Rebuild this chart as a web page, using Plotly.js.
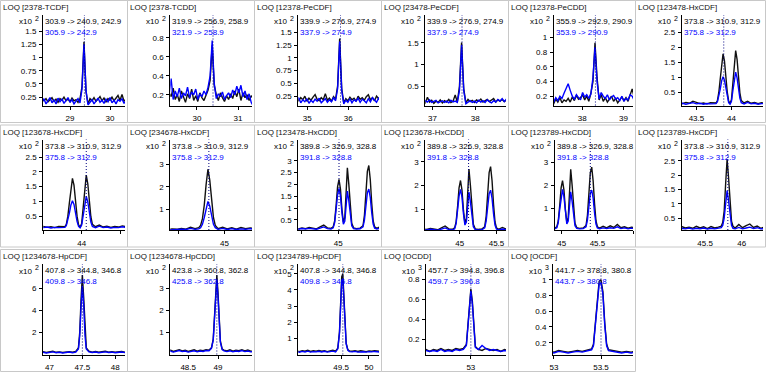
<!DOCTYPE html>
<html><head><meta charset="utf-8">
<script src="https://cdn.plot.ly/plotly-3.0.1.min.js"></script>
<style>html,body{margin:0;padding:0;background:#fff}#chart{width:769px;height:377px}</style>
</head><body><div id="chart"></div>
<script>
// ---------------- DATA ----------------
const titles = ['LOQ [2378-TCDF]','LOQ [2378-TCDD]','LOQ [12378-PeCDF]','LOQ [23478-PeCDF]','LOQ [12378-PeCDD]','LOQ [123478-HxCDF]',
  'LOQ [123678-HxCDF]','LOQ [234678-HxCDF]','LOQ [123478-HxCDD]','LOQ [123678-HxCDD]','LOQ [123789-HxCDD]','LOQ [123789-HxCDF]',
  'LOQ [1234678-HpCDF]','LOQ [1234678-HpCDD]','LOQ [1234789-HpCDF]','LOQ [OCDD]','LOQ [OCDF]'];
const quantLabels = ['303.9 -> 240.9, 242.9','319.9 -> 256.9, 258.9','339.9 -> 276.9, 274.9','339.9 -> 276.9, 274.9','355.9 -> 292.9, 290.9','373.8 -> 310.9, 312.9',
  '373.8 -> 310.9, 312.9','373.8 -> 310.9, 312.9','389.8 -> 326.9, 328.8','389.8 -> 326.9, 328.8','389.8 -> 326.9, 328.8','373.8 -> 310.9, 312.9',
  '407.8 -> 344.8, 346.8','423.8 -> 360.8, 362.8','407.8 -> 344.8, 346.8','457.7 -> 394.8, 396.8','441.7 -> 378.8, 380.8'];
const qualLabels = ['305.9 -> 242.9','321.9 -> 258.9','337.9 -> 274.9','337.9 -> 274.9','353.9 -> 290.9','375.8 -> 312.9',
  '375.8 -> 312.9','375.8 -> 312.9','391.8 -> 328.8','391.8 -> 328.8','391.8 -> 328.8','375.8 -> 312.9',
  '409.8 -> 346.8','425.8 -> 362.8','409.8 -> 346.8','459.7 -> 396.8','443.7 -> 380.8'];
const exponents = ['2','2','2','2','2','2','2','2','2','2','2','2','2','2','2','3','3'];
const retTimes = [29.36,30.39,35.81,37.69,38.32,43.89,44.06,44.83,45.01,45.12,45.40,45.81,47.50,48.98,49.53,53.00,53.50];

const tcdfStart = 28.30, tcdfStep = 0.05;
const tcdfQuant = [0.20,0.18,0.22,0.16,0.20,0.24,0.17,0.21,0.15,0.22,0.19,0.25,0.18,0.21,0.16,0.23,0.18,0.20,0.15,0.22,0.45,1.30,0.35,0.12,0.22,0.18,0.24,0.17,0.21,0.26,0.18,0.23,0.16,0.22,0.19,0.25,0.18,0.22,0.28,0.19,0.30,0.17,0.21];
const tcdfQual  = [0.15,0.22,0.12,0.19,0.24,0.14,0.20,0.12,0.23,0.16,0.21,0.13,0.19,0.24,0.15,0.20,0.12,0.18,0.22,0.14,0.40,1.25,0.38,0.10,0.14,0.20,0.12,0.18,0.23,0.15,0.19,0.13,0.21,0.16,0.24,0.14,0.19,0.12,0.20,0.17,0.22,0.13,0.18];

const tcddStart = 29.32, tcddStep = 0.05;
const tcddQuant = [0.22,0.18,0.27,0.15,0.20,0.13,0.24,0.17,0.12,0.21,0.16,0.26,0.14,0.19,0.13,0.22,0.17,0.14,0.20,0.25,0.35,0.72,0.30,0.20,0.14,0.22,0.17,0.13,0.19,0.15,0.21,0.16,0.24,0.18,0.26,0.14,0.22,0.17,0.20,0.14,0.19,0.16];
const tcddQual  = [0.20,0.37,0.15,0.24,0.18,0.27,0.16,0.22,0.19,0.28,0.17,0.23,0.20,0.26,0.15,0.21,0.18,0.24,0.20,0.28,0.40,0.77,0.32,0.16,0.21,0.18,0.23,0.15,0.19,0.22,0.17,0.25,0.20,0.29,0.22,0.30,0.18,0.24,0.15,0.21,0.12,0.08];

const pecdf1Start = 34.74, pecdf1Step = 0.05;
const pecdf1Quant = [0.20,0.16,0.22,0.18,0.25,0.15,0.21,0.17,0.23,0.28,0.19,0.16,0.22,0.18,0.30,0.17,0.21,0.15,0.24,0.19,0.45,1.38,0.40,0.12,0.20,0.16,0.23,0.18,0.21,0.15,0.25,0.19,0.22,0.17,0.24,0.28,0.18,0.22,0.16,0.25,0.20,0.23];
const pecdf1Qual  = [0.15,0.22,0.12,0.18,0.14,0.20,0.11,0.17,0.13,0.19,0.15,0.21,0.12,0.16,0.20,0.13,0.18,0.14,0.22,0.16,0.40,1.32,0.35,0.10,0.17,0.13,0.20,0.12,0.18,0.15,0.21,0.13,0.19,0.16,0.12,0.20,0.14,0.22,0.17,0.13,0.21,0.15];

const pecdf2Start = 36.78, pecdf2Step = 0.05;
const pecdf2Quant = [0.15,0.12,0.25,0.14,0.18,0.11,0.16,0.13,0.19,0.12,0.17,0.14,0.20,0.13,0.16,0.30,0.14,0.50,1.51,0.45,0.12,0.20,0.15,0.18,0.13,0.19,0.16,0.21,0.14,0.17,0.20,0.15,0.18,0.22,0.14,0.19,0.16,0.20,0.15,0.18,0.14];
const pecdf2Qual  = [0.12,0.17,0.14,0.19,0.13,0.16,0.18,0.12,0.15,0.17,0.13,0.16,0.12,0.18,0.14,0.16,0.13,0.40,1.45,0.40,0.10,0.14,0.17,0.13,0.16,0.12,0.18,0.14,0.17,0.13,0.19,0.15,0.12,0.17,0.14,0.20,0.16,0.22,0.15,0.21,0.24];

const pecddStart = 37.26, pecddStep = 0.05;
const pecddQuant = [0.14,0.10,0.16,0.12,0.18,0.11,0.15,0.13,0.17,0.12,0.19,0.14,0.21,0.16,0.18,0.22,0.15,0.20,0.13,0.24,0.40,0.93,0.45,0.15,0.22,0.13,0.18,0.12,0.16,0.20,0.13,0.17,0.11,0.15,0.19,0.14,0.18,0.13,0.21,0.30,0.18];
const pecddQual  = [0.16,0.12,0.18,0.14,0.20,0.17,0.24,0.30,0.37,0.28,0.20,0.16,0.22,0.18,0.15,0.25,0.19,0.22,0.17,0.23,0.45,0.87,0.40,0.16,0.25,0.20,0.17,0.22,0.15,0.19,0.21,0.16,0.18,0.14,0.20,0.13,0.17,0.15,0.22,0.20,0.14];

const hxcdfTime = [43.25,43.30,43.35,43.40,43.45,43.50,43.55,43.60,43.65,43.70,43.75,43.78,43.80,43.82,43.84,43.86,43.88,43.90,43.92,43.94,43.96,43.98,44.00,44.02,44.04,44.06,44.08,44.10,44.12,44.14,44.18,44.23,44.28,44.33,44.38,44.43,44.48,44.53,44.58,44.63,44.68,44.72,44.74,44.76,44.78,44.80,44.82,44.84,44.86,44.88,44.90,44.93,44.98,45.03,45.08,45.13,45.18,45.23,45.28,45.33,45.38,45.43,45.48,45.53,45.58,45.63,45.68,45.72,45.74,45.76,45.78,45.80,45.82,45.84,45.86,45.88,45.91,45.96,46.01,46.06,46.11,46.16,46.21,46.26,46.31,46.36];
const hxcdfQuant = [0.14,0.12,0.16,0.13,0.20,0.15,0.12,0.14,0.11,0.15,0.13,0.14,0.22,0.50,0.95,1.50,1.78,1.55,1.00,0.50,0.20,0.12,0.25,0.80,1.50,1.89,1.60,1.00,0.48,0.22,0.14,0.20,0.13,0.16,0.12,0.15,0.13,0.17,0.14,0.22,0.16,0.20,0.30,0.60,1.20,2.10,2.78,2.30,1.40,0.65,0.30,0.16,0.22,0.15,0.20,0.14,0.21,0.16,0.19,0.15,0.22,0.16,0.20,0.14,0.21,0.16,0.19,0.22,0.35,0.75,1.70,2.56,1.90,0.90,0.40,0.22,0.16,0.28,0.17,0.24,0.30,0.18,0.23,0.15,0.20,0.17];
const hxcdfQual  = [0.11,0.13,0.10,0.12,0.15,0.11,0.13,0.10,0.12,0.11,0.13,0.12,0.18,0.35,0.60,0.88,1.02,0.90,0.60,0.32,0.15,0.10,0.20,0.55,0.95,1.17,0.98,0.60,0.30,0.15,0.11,0.16,0.11,0.13,0.10,0.12,0.11,0.14,0.12,0.17,0.13,0.15,0.20,0.35,0.65,1.05,1.36,1.15,0.70,0.35,0.20,0.13,0.17,0.12,0.16,0.12,0.15,0.13,0.16,0.12,0.15,0.13,0.16,0.12,0.15,0.13,0.15,0.17,0.25,0.50,1.00,1.46,1.10,0.55,0.25,0.15,0.13,0.18,0.13,0.16,0.19,0.14,0.17,0.13,0.15,0.14];

const hxcddTime = [44.40,44.45,44.50,44.55,44.60,44.65,44.70,44.75,44.80,44.85,44.90,44.93,44.95,44.97,44.99,45.01,45.03,45.05,45.07,45.09,45.105,45.125,45.145,45.165,45.185,45.21,45.25,45.30,45.34,45.36,45.38,45.40,45.42,45.44,45.46,45.48,45.50,45.53,45.58,45.63,45.68,45.73,45.78,45.83,45.88,45.93,45.98,46.03];
const hxcddQuant = [0.15,0.12,0.16,0.13,0.18,0.14,0.12,0.20,0.28,0.16,0.14,0.20,0.45,1.10,1.90,2.21,1.80,0.95,0.40,0.60,1.40,2.70,2.00,0.90,0.35,0.16,0.13,0.15,0.25,0.70,1.60,2.55,2.80,2.20,1.20,0.45,0.20,0.14,0.22,0.15,0.24,0.17,0.30,0.16,0.20,0.14,0.18,0.15];
const hxcddQual  = [0.12,0.10,0.13,0.11,0.14,0.12,0.10,0.15,0.20,0.13,0.11,0.16,0.38,0.95,1.55,1.83,1.50,0.80,0.32,0.45,1.00,1.72,1.30,0.60,0.25,0.13,0.11,0.12,0.20,0.50,1.10,1.65,1.80,1.45,0.80,0.32,0.15,0.11,0.15,0.12,0.16,0.13,0.20,0.12,0.15,0.11,0.14,0.12];

const hpcdfTime = [46.85,46.90,46.95,47.00,47.05,47.10,47.15,47.20,47.25,47.30,47.35,47.40,47.44,47.46,47.48,47.50,47.52,47.54,47.56,47.60,47.65,47.70,47.75,47.80,47.85,47.90,47.95,48.00,48.05,48.10,48.15,48.20,48.70,48.75,48.80,48.85,48.90,48.95,49.00,49.05,49.10,49.15,49.20,49.25,49.30,49.35,49.40,49.44,49.47,49.49,49.51,49.53,49.55,49.57,49.59,49.62,49.65,49.70,49.75,49.80,49.85,49.90,49.95,50.00,50.05,50.10,50.15,50.20];
const hpcdfQuant = [0.20,0.25,0.18,0.22,0.30,0.20,0.24,0.18,0.22,0.26,0.20,0.28,0.60,2.00,5.00,7.20,5.20,2.00,0.60,0.30,0.22,0.28,0.20,0.25,0.30,0.22,0.26,0.20,0.24,0.28,0.21,0.25,0.22,0.18,0.24,0.20,0.26,0.19,0.23,0.21,0.25,0.20,0.24,0.18,0.22,0.26,0.20,0.40,1.40,3.20,4.80,5.00,3.60,1.80,0.70,0.30,0.22,0.20,0.24,0.19,0.23,0.21,0.18,0.22,0.20,0.24,0.21,0.19];
const hpcdfQual  = [0.15,0.20,0.14,0.18,0.24,0.16,0.20,0.14,0.18,0.22,0.16,0.22,0.50,1.70,4.30,6.20,4.50,1.70,0.50,0.24,0.18,0.22,0.16,0.20,0.24,0.18,0.21,0.16,0.20,0.23,0.17,0.20,0.17,0.14,0.19,0.16,0.21,0.15,0.18,0.16,0.20,0.16,0.20,0.15,0.18,0.21,0.16,0.35,1.30,3.00,4.50,4.70,3.40,1.70,0.65,0.26,0.18,0.16,0.19,0.15,0.18,0.17,0.15,0.18,0.16,0.19,0.17,0.15];

const hpcddTime = [48.15,48.20,48.25,48.30,48.35,48.40,48.45,48.50,48.55,48.60,48.65,48.70,48.75,48.80,48.85,48.89,48.92,48.94,48.96,48.98,49.00,49.02,49.04,49.07,49.10,49.15,49.20,49.25,49.30,49.35,49.40,49.45,49.50,49.55,49.60,49.65];
const hpcddQuant = [0.15,0.20,0.14,0.18,0.22,0.16,0.19,0.14,0.18,0.21,0.15,0.19,0.17,0.22,0.20,0.30,0.70,1.60,2.90,3.60,2.80,1.50,0.60,0.25,0.20,0.16,0.21,0.15,0.19,0.17,0.22,0.16,0.20,0.15,0.18,0.16];
const hpcddQual  = [0.12,0.16,0.11,0.15,0.18,0.13,0.16,0.11,0.15,0.17,0.12,0.16,0.14,0.18,0.17,0.28,0.65,1.50,2.75,3.40,2.60,1.40,0.55,0.22,0.16,0.13,0.17,0.12,0.16,0.14,0.18,0.13,0.16,0.12,0.15,0.13];

const ocddTime = [52.35,52.40,52.45,52.50,52.55,52.60,52.65,52.70,52.75,52.80,52.85,52.90,52.94,52.96,52.98,53.00,53.02,53.04,53.06,53.10,53.15,53.20,53.25,53.30,53.35,53.40,53.45,53.50,53.55];
const ocddQuant = [0.09,0.10,0.08,0.10,0.09,0.11,0.09,0.10,0.09,0.11,0.10,0.11,0.15,0.35,0.60,0.70,0.58,0.30,0.13,0.10,0.09,0.11,0.10,0.09,0.10,0.08,0.10,0.09,0.10];
const ocddQual  = [0.08,0.09,0.08,0.09,0.08,0.10,0.08,0.09,0.08,0.10,0.09,0.10,0.14,0.33,0.57,0.68,0.55,0.28,0.12,0.10,0.14,0.11,0.09,0.10,0.09,0.08,0.09,0.08,0.09];

const ocdfTime = [52.90,52.95,53.00,53.05,53.10,53.15,53.20,53.25,53.30,53.35,53.40,53.42,53.44,53.46,53.48,53.50,53.52,53.54,53.56,53.58,53.62,53.67,53.72,53.77,53.82,53.87];
const ocdfQuant = [0.08,0.09,0.08,0.10,0.09,0.08,0.09,0.10,0.09,0.11,0.12,0.18,0.45,0.80,0.98,1.00,0.85,0.45,0.18,0.11,0.10,0.09,0.08,0.09,0.08,0.09];
const ocdfQual  = [0.07,0.08,0.07,0.09,0.08,0.07,0.08,0.09,0.08,0.10,0.11,0.16,0.42,0.76,0.94,0.96,0.82,0.42,0.16,0.10,0.09,0.08,0.07,0.08,0.07,0.08];

const xTicks = [[29,30],[30,31],[35,36],[37,38],[38,39],[43.5,44],
  [43.5,44,44.5],[44.5,45],[44.5,45],[45,45.5],[45,45.5,46],[45.5,46],
  [47,47.5,48],[48.5,49],[49.5,50],[53],[53,53.5]];
const xTickText = [['29','30'],['30','31'],['35','36'],['37','38'],['38','39'],['43.5','44'],
  ['','44',''],['','45'],['','45'],['45','45.5'],['45','45.5',''],['45.5','46'],
  ['47','47.5','48'],['48.5','49'],['49.5','50'],['53'],['53','53.5']];
const yTicks = [[0.25,0.5,0.75,1,1.25,1.5],[0.2,0.4,0.6,0.8],[0.25,0.5,0.75,1,1.25,1.5],[0.5,1,1.5],[0.2,0.4,0.6,0.8,1],[0.5,1,1.5,2,2.5],
  [0.5,1,1.5,2,2.5],[1,2,3],[0.5,1,1.5,2,2.5,3],[1,2,3],[1,2,3],[0.5,1,1.5,2,2.5],
  [2,4,6],[1,2,3],[1,2,3,4,5],[0.2,0.4,0.6,0.8],[0.2,0.4,0.6,0.8,1]];

// ---------------- LAYOUT SETUP ----------------
const W = 769, H = 377;
const FONT = 'Liberation Sans, Arial, sans-serif';
const QUANT_COLOR = '#111111', QUAL_COLOR = '#0000ff', RT_COLOR = '#000080';

const series = {
  tcdf:  {x0: tcdfStart, dx: tcdfStep, q: tcdfQuant, r: tcdfQual},
  tcdd:  {x0: tcddStart, dx: tcddStep, q: tcddQuant, r: tcddQual},
  pecdf1:{x0: pecdf1Start, dx: pecdf1Step, q: pecdf1Quant, r: pecdf1Qual},
  pecdf2:{x0: pecdf2Start, dx: pecdf2Step, q: pecdf2Quant, r: pecdf2Qual},
  pecdd: {x0: pecddStart, dx: pecddStep, q: pecddQuant, r: pecddQual},
  hxcdf: {x: hxcdfTime, q: hxcdfQuant, r: hxcdfQual},
  hxcdd: {x: hxcddTime, q: hxcddQuant, r: hxcddQual},
  hpcdf: {x: hpcdfTime, q: hpcdfQuant, r: hpcdfQual},
  hpcdd: {x: hpcddTime, q: hpcddQuant, r: hpcddQual},
  ocdd:  {x: ocddTime, q: ocddQuant, r: ocddQual},
  ocdf:  {x: ocdfTime, q: ocdfQuant, r: ocdfQual}
};

const geom = [
  {c:0,r:0,ax:43.0,xr:[28.325,30.375],yr:[0.09,1.806],s:'tcdf'},
  {c:1,r:0,ax:43.3,xr:[29.35,31.34],yr:[0.087,1.04],s:'tcdd'},
  {c:2,r:0,ax:44.3,xr:[34.78,36.75],yr:[0.067,1.84],s:'pecdf1'},
  {c:3,r:0,ax:44.3,xr:[36.83,38.72],yr:[0.06,2.14],s:'pecdf2'},
  {c:4,r:0,ax:45.7,xr:[37.31,39.23],yr:[0.073,1.31],s:'pecdd'},
  {c:5,r:0,ax:46.7,xr:[43.29,44.45],yr:[0.056,3.08],s:'hxcdf'},
  {c:0,r:1,ax:43.3,xr:[43.5,44.565],yr:[0.03,3.1],s:'hxcdf'},
  {c:1,r:1,ax:43.3,xr:[44.41,45.30],yr:[0.1,4.09],s:'hxcdf'},
  {c:2,r:1,ax:44.3,xr:[44.45,45.56],yr:[0.07,3.9],s:'hxcdd'},
  {c:3,r:1,ax:44.3,xr:[44.53,45.63],yr:[0.11,3.95],s:'hxcdd'},
  {c:4,r:1,ax:46.7,xr:[44.9,46.0],yr:[0.06,4.0],s:'hxcdd'},
  {c:5,r:1,ax:46.7,xr:[45.18,46.29],yr:[0.09,3.24],s:'hxcdf'},
  {c:0,r:2,ax:43.0,xr:[46.9,48.15],yr:[0,8.2],s:'hpcdf'},
  {c:1,r:2,ax:43.3,xr:[48.2,49.57],yr:[0,4.1],s:'hpcdd'},
  {c:2,r:2,ax:44.3,xr:[48.73,50.18],yr:[0,5.6],s:'hpcdf'},
  {c:3,r:2,ax:45.0,xr:[52.4,53.47],yr:[0.05,0.95],s:'ocdd'},
  {c:4,r:2,ax:45.0,xr:[52.99,53.84],yr:[0.05,1.2],s:'ocdf'}
];
const colLeft = [0,127,254,381,508,635];
const colRight = [125,252,379,506,633,763];
const rowTop = [0,124.5,249];

const traces = [], shapes = [], annotations = [];
const layout = {width:W, height:H, margin:{l:0,r:0,t:0,b:0}, paper_bgcolor:'#fff', plot_bgcolor:'#fff',
  showlegend:false, font:{family:FONT, size:8, color:'#000'}};

const px = v => v / W, py = v => 1 - v / H;

geom.forEach((g, i) => {
  const n = i + 1, sx = n === 1 ? '' : String(n);
  const left = colLeft[g.c] + g.ax, right = colRight[g.c];
  const top = rowTop[g.r] + 15, bottom = rowTop[g.r] + 105.5;
  const ser = series[g.s];
  const base = {type:'scatter', mode:'lines', xaxis:'x'+sx, yaxis:'y'+sx, hoverinfo:'skip'};
  const xs = ser.x ? {x: ser.x} : {x0: ser.x0, dx: ser.dx};
  traces.push(Object.assign({}, base, xs, {y: ser.q, line:{color:QUANT_COLOR, width:1.4}}));
  traces.push(Object.assign({}, base, xs, {y: ser.r, line:{color:QUAL_COLOR, width:1.4}}));
  const axCommon = {showline:true, linecolor:'#000', linewidth:1, ticks:'outside', ticklen:3, tickcolor:'#000', tickwidth:1,
    showgrid:false, zeroline:false, fixedrange:true, tickmode:'array', tickfont:{family:FONT, size:8, color:'#000'}};
  layout['xaxis'+sx] = Object.assign({}, axCommon, {domain:[px(left), px(right)], range:g.xr, anchor:'y'+sx,
    tickvals:xTicks[i], ticktext:xTickText[i], ticklabelstandoff:2});
  layout['yaxis'+sx] = Object.assign({}, axCommon, {domain:[py(bottom), py(top)], range:g.yr, anchor:'x'+sx,
    tickvals:yTicks[i], ticktext:yTicks[i].map(String), ticklabelstandoff:1});
  shapes.push({type:'line', xref:'x'+sx, yref:'y'+sx+' domain', x0:retTimes[i], x1:retTimes[i], y0:0, y1:1,
    line:{color:RT_COLOR, width:1, dash:'1px,2px'}});
  shapes.push({type:'rect', xref:'paper', yref:'paper', x0:px(colLeft[g.c]+0.5), x1:px(colRight[g.c]+2.5),
    y0:py(rowTop[g.r]+122.5), y1:py(rowTop[g.r]+0.5), line:{color:'#c8c8c8', width:1}, fillcolor:'rgba(0,0,0,0)', layer:'below'});
  const ann = (text, x, y, xa, color, size) => annotations.push({text, x:px(x), y:py(y), xref:'paper', yref:'paper',
    xanchor:xa, yanchor:'middle', showarrow:false, borderpad:0, font:{family:FONT, size:size||8, color}});
  ann(titles[i], colLeft[g.c] + 2, rowTop[g.r] + 7.5, 'left', '#111');
  ann('x10', left - 10, rowTop[g.r] + 22, 'right', '#000');
  ann(exponents[i], left - 6, rowTop[g.r] + 18.5, 'center', '#000', 7);
  ann(quantLabels[i], left + 1, rowTop[g.r] + 21.5, 'left', '#000');
  ann(qualLabels[i], left + 1, rowTop[g.r] + 32.5, 'left', QUAL_COLOR);
});
layout.shapes = shapes;
layout.annotations = annotations;
Plotly.newPlot('chart', traces, layout, {staticPlot:true, displayModeBar:false});
</script>
</body></html>
